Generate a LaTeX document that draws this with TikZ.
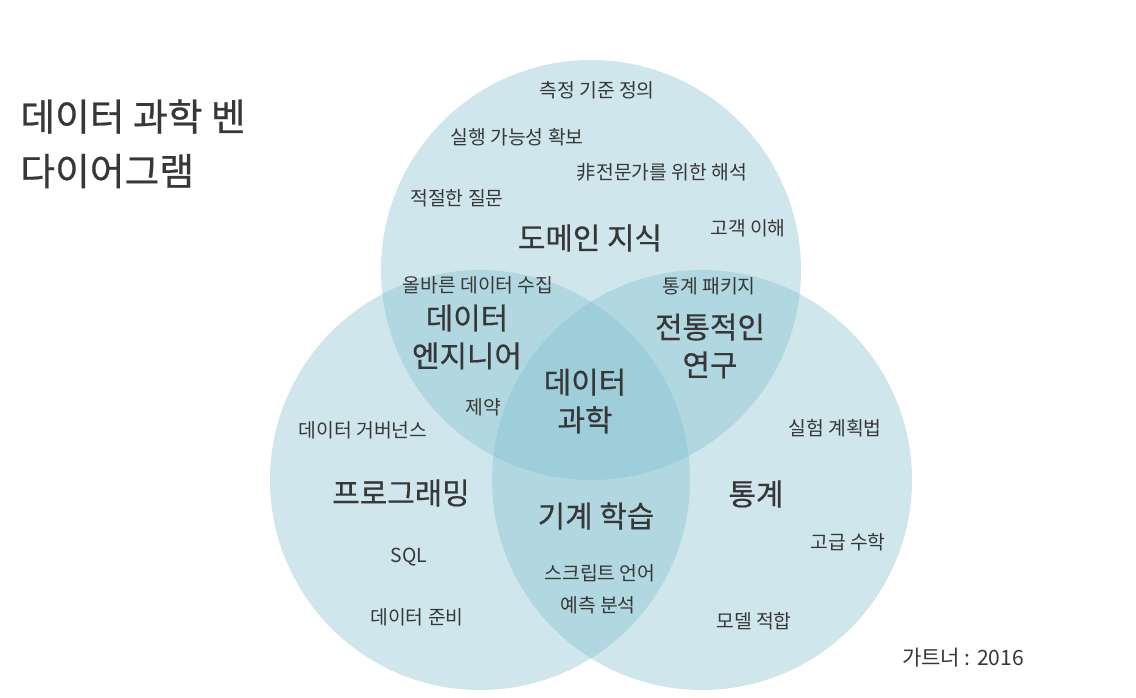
\documentclass[tikz,border=0pt]{standalone}
\usepackage{fontspec}
\setmainfont{Noto Sans CJK KR}
\newfontfamily\heavy[FakeBold=0.6]{Noto Sans CJK KR}
\definecolor{venn}{RGB}{125,190,204}
\definecolor{textgray}{RGB}{55,55,55}
\begin{document}
\begin{tikzpicture}[
  x=0.02cm, y=-0.02cm,
  vennset/.style={fill=venn, fill opacity=0.37},
  small/.style={font=\fontsize{11}{13}\selectfont, text=textgray, inner sep=0pt},
  big/.style={font=\heavy\fontsize{17}{21.5}\selectfont, text=textgray, align=center, inner sep=0pt},
  title/.style={font=\heavy\fontsize{21.5}{31}\selectfont, text=textgray, align=left, inner sep=0pt, anchor=north west}
]
\useasboundingbox (0,0) rectangle (1136,697);
% three sets
\fill[vennset] (591,270) circle (210);
\fill[vennset] (480,480) circle (210);
\fill[vennset] (702,480) circle (210);
% title
\node[title] (titel) at (20,99) {데이터 과학 벤\\다이어그램};
% domain knowledge
\node[small] (measure) at (597,90) {측정 기준 정의};
\node[small] (feasible) at (517,137) {실행 가능성 확보};
\node[small] (explain) at (662,172) {非전문가를 위한 해석};
\node[small] (question) at (457,198) {적절한 질문};
\node[small] (customer) at (748,228) {고객 이해};
\node[big] (domain) at (590,238) {도메인 지식};
% overlaps
\node[small] (collect) at (478,285) {올바른 데이터 수집};
\node[small] (package) at (709,286) {통계 패키지};
\node[big] (engineer) at (467,337) {데이터\\엔지니어};
\node[big] (research) at (710,346) {전통적인\\연구};
\node[big] (science) at (585,401) {데이터\\과학};
\node[small] (limit) at (483,407) {제약};
% programming
\node[small] (governance) at (363,430) {데이터 거버넌스};
\node[big] (programming) at (401,493) {프로그래밍};
\node[small] (sql) at (409,557) {SQL};
\node[small] (prepare) at (417,617) {데이터 준비};
% machine learning
\node[big] (learning) at (596,516) {기계 학습};
\node[small] (script) at (600,573) {스크립트 언어};
\node[small] (predict) at (598,605) {예측 분석};
% statistics
\node[small] (design) at (835,428) {실험 계획법};
\node[big] (statistics) at (756,494) {통계};
\node[small] (math) at (848,542) {고급 수학};
\node[small] (fit) at (754,621) {모델 적합};
% source
\node[small, font=\fontsize{12}{14}\selectfont] (source) at (963,658) {가트너 : 2016};
\end{tikzpicture}
\end{document}
